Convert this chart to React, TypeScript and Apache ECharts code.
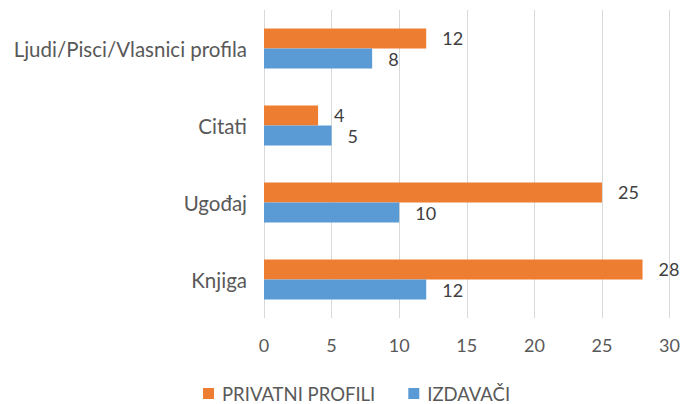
import React, { useEffect, useRef } from "react";
import * as echarts from "echarts";

const categories = ["Knjiga", "Ugođaj", "Citati", "Ljudi/Pisci/Vlasnici profila"];
const privatniProfili = [28, 25, 4, 12];
const izdavaci = [12, 10, 5, 8];
const seriesNames = ["PRIVATNI PROFILI", "IZDAVAČI"];

const FONT = "Lato";

export default function App() {
  const ref = useRef<HTMLDivElement>(null);
  useEffect(() => {
    if (!ref.current) return;
    const chart = echarts.init(ref.current, null, { renderer: "svg" });
    const label = {
      show: true,
      position: "right",
      distance: 16,
      color: "#404040",
      fontSize: 18,
      fontFamily: FONT,
    };
    chart.setOption({
      animation: false,
      grid: { left: 264, right: 12, top: 10, bottom: 86, containLabel: false },
      legend: {
        data: seriesNames,
        top: 384,
        left: 203,
        padding: 0,
        itemWidth: 11,
        itemHeight: 11,
        itemGap: 33,
        icon: "rect",
        textStyle: { color: "#595959", fontSize: 18.5, fontFamily: FONT, padding: [0, 0, 0, 3] },
      },
      xAxis: {
        type: "value",
        min: 0,
        max: 30,
        interval: 5,
        axisLine: { show: false },
        axisTick: { show: false },
        splitLine: { lineStyle: { color: "#d9d9d9", width: 1 } },
        axisLabel: { color: "#595959", fontSize: 18, fontFamily: FONT, margin: 18 },
      },
      yAxis: {
        type: "category",
        data: categories,
        axisLine: { show: false },
        axisTick: { show: false },
        axisLabel: { color: "#595959", fontSize: 20.5, fontFamily: FONT, margin: 17 },
      },
      series: [
        {
          name: seriesNames[0],
          type: "bar",
          data: privatniProfili,
          itemStyle: { color: "#ED7D31" },
          barGap: "0%",
          barCategoryGap: "48%",
          label,
        },
        {
          name: seriesNames[1],
          type: "bar",
          data: izdavaci,
          itemStyle: { color: "#5B9BD5" },
          barGap: "0%",
          barCategoryGap: "48%",
          label,
        },
      ],
    });
    return () => chart.dispose();
  }, []);
  return <div ref={ref} style={{ width: 683, height: 404, position: "absolute", left: 0, top: 0 }} />;
}
